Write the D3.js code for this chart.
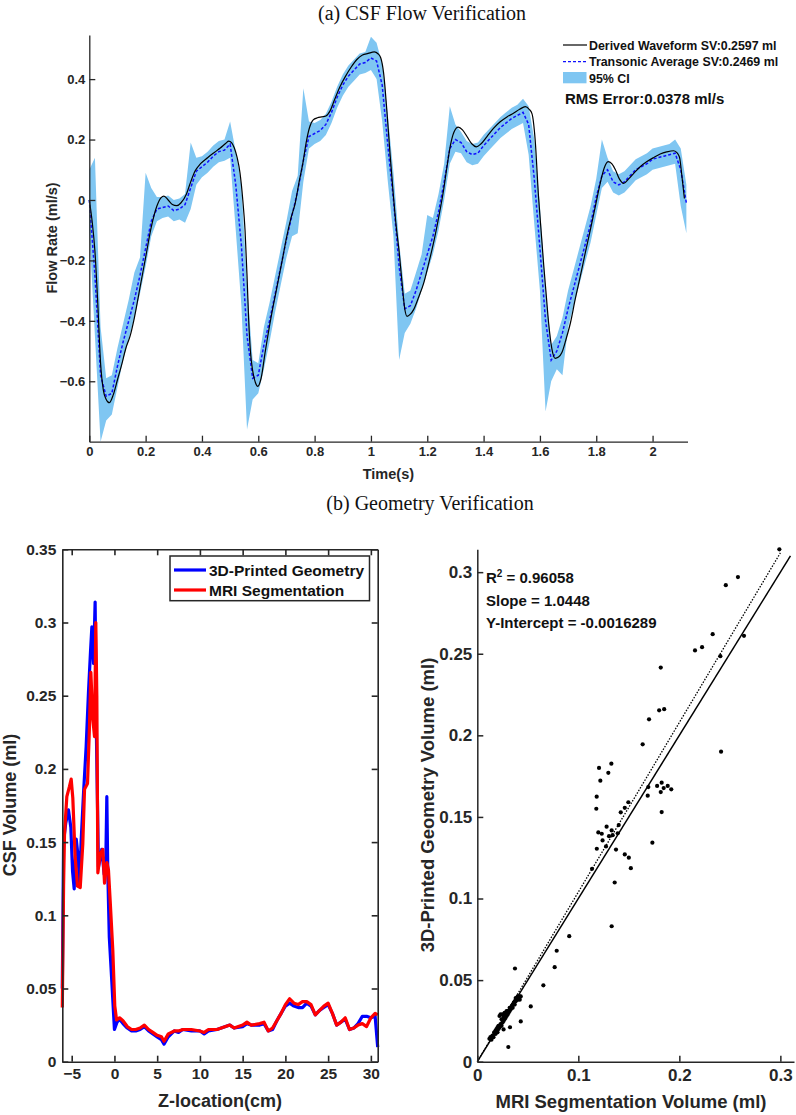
<!DOCTYPE html>
<html>
<head>
<meta charset="utf-8">
<script src="https://cdn.jsdelivr.net/npm/d3@7"></script>
<style>
    body { margin: 0; background: #fff; }
    svg { display: block; font-family: "Liberation Sans", Arial, sans-serif; }
</style>
</head>
<body>
<div id="chart"></div>
<script>
// ---------- (a) CSF flow data ----------
// derived waveform (black), [time s, flow ml/s]
const derivedWave = [
    [0, 0.0], [0.01, -0.07], [0.02, -0.17], [0.03, -0.34], [0.04, -0.54], [0.05, -0.63], [0.06, -0.66],
    [0.071, -0.671], [0.085, -0.645], [0.1, -0.595], [0.115, -0.545], [0.13, -0.49], [0.145, -0.45],
    [0.16, -0.39], [0.18, -0.29], [0.2, -0.19], [0.22, -0.09], [0.24, -0.02], [0.255, 0.008], [0.265, 0.013],
    [0.28, 0.0], [0.295, -0.015], [0.31, -0.019], [0.325, -0.01], [0.345, 0.02], [0.36, 0.06], [0.375, 0.095],
    [0.395, 0.12], [0.42, 0.14], [0.445, 0.158], [0.465, 0.172], [0.485, 0.188], [0.495, 0.195], [0.505, 0.19],
    [0.515, 0.172], [0.525, 0.14], [0.535, 0.09], [0.545, 0.0], [0.553, -0.1], [0.56, -0.25], [0.566, -0.4],
    [0.572, -0.5], [0.58, -0.565], [0.59, -0.605], [0.598, -0.617], [0.61, -0.59], [0.625, -0.5], [0.645, -0.39],
    [0.666, -0.29], [0.685, -0.2], [0.701, -0.121], [0.716, -0.06], [0.731, -0.011], [0.745, 0.06], [0.758, 0.12],
    [0.77, 0.19], [0.782, 0.24], [0.795, 0.265], [0.81, 0.272], [0.825, 0.275], [0.84, 0.278], [0.855, 0.295],
    [0.87, 0.33], [0.89, 0.375], [0.91, 0.41], [0.93, 0.44], [0.95, 0.465], [0.97, 0.48], [0.99, 0.485],
    [1.012, 0.49], [1.025, 0.484], [1.035, 0.47], [1.045, 0.42], [1.057, 0.29], [1.068, 0.15], [1.08, 0.011],
    [1.09, -0.09], [1.1, -0.17], [1.11, -0.27], [1.12, -0.36], [1.128, -0.385], [1.14, -0.378], [1.152, -0.362],
    [1.17, -0.32], [1.187, -0.276], [1.205, -0.21], [1.222, -0.143], [1.24, -0.06], [1.258, 0.033], [1.27, 0.11],
    [1.282, 0.18], [1.295, 0.225], [1.31, 0.241], [1.325, 0.232], [1.341, 0.21], [1.358, 0.186], [1.374, 0.176],
    [1.39, 0.185], [1.412, 0.21], [1.435, 0.237], [1.459, 0.259], [1.483, 0.275], [1.506, 0.287], [1.528, 0.3],
    [1.548, 0.309], [1.562, 0.3], [1.572, 0.285], [1.583, 0.2], [1.595, 0.011], [1.604, -0.1], [1.613, -0.21],
    [1.622, -0.31], [1.631, -0.408], [1.642, -0.49], [1.654, -0.524], [1.666, -0.52], [1.678, -0.505],
    [1.693, -0.46], [1.708, -0.408], [1.725, -0.33], [1.743, -0.254], [1.761, -0.175], [1.779, -0.099],
    [1.797, -0.02], [1.814, 0.055], [1.828, 0.105], [1.842, 0.127], [1.855, 0.12], [1.868, 0.1], [1.882, 0.07],
    [1.897, 0.055], [1.915, 0.07], [1.933, 0.088], [1.956, 0.11], [1.98, 0.127], [2.003, 0.14], [2.027, 0.152],
    [2.05, 0.159], [2.075, 0.163], [2.088, 0.155], [2.096, 0.14], [2.104, 0.08], [2.113, 0.005]
];

// transonic average and its 95% CI, sampled every 0.02 s
const avgTime = [
    0, 0.02, 0.04, 0.06, 0.08, 0.1, 0.12, 0.14, 0.16, 0.18, 0.2, 0.22, 0.24, 0.26, 0.28, 0.3, 0.32, 0.34, 0.36, 0.38,
    0.4, 0.42, 0.44, 0.46, 0.48, 0.5, 0.52, 0.54, 0.56, 0.58, 0.6, 0.62, 0.64, 0.66, 0.68, 0.7, 0.72, 0.74, 0.76, 0.78,
    0.8, 0.82, 0.84, 0.86, 0.88, 0.9, 0.92, 0.94, 0.96, 0.98, 1, 1.02, 1.04, 1.06, 1.08, 1.1, 1.12, 1.14, 1.16, 1.18,
    1.2, 1.22, 1.24, 1.26, 1.28, 1.3, 1.32, 1.34, 1.36, 1.38, 1.4, 1.42, 1.44, 1.46, 1.48, 1.5, 1.52, 1.54, 1.56, 1.58,
    1.6, 1.62, 1.64, 1.66, 1.68, 1.7, 1.72, 1.74, 1.76, 1.78, 1.8, 1.82, 1.84, 1.86, 1.88, 1.9, 1.92, 1.94, 1.96, 1.98,
    2, 2.02, 2.04, 2.06, 2.08, 2.1, 2.12
];
const avgFlow = [
    0, -0.25, -0.58, -0.65, -0.64, -0.55, -0.47, -0.4, -0.33, -0.25, -0.16, -0.07, -0.03, -0.025, -0.02, -0.035, -0.03, -0.015, 0.04, 0.095,
    0.11, 0.125, 0.145, 0.16, 0.165, 0.185, 0.05, -0.15, -0.45, -0.59, -0.58, -0.48, -0.4, -0.31, -0.22, -0.13, -0.05, 0.03, 0.13, 0.21,
    0.22, 0.23, 0.25, 0.29, 0.34, 0.38, 0.41, 0.43, 0.45, 0.455, 0.47, 0.46, 0.38, 0.18, 0, -0.22, -0.36, -0.35, -0.3, -0.24,
    -0.18, -0.12, -0.04, 0.06, 0.17, 0.2, 0.19, 0.16, 0.15, 0.155, 0.18, 0.2, 0.22, 0.24, 0.255, 0.27, 0.28, 0.29, 0.25, 0.07,
    -0.16, -0.4, -0.53, -0.5, -0.44, -0.36, -0.29, -0.22, -0.15, -0.08, 0.01, 0.08, 0.1, 0.06, 0.05, 0.06, 0.08, 0.1, 0.11, 0.12,
    0.135, 0.14, 0.145, 0.15, 0.155, 0.1, -0.01
];
const ciLow = [
    -0.1, -0.45, -0.8, -0.73, -0.71, -0.62, -0.53, -0.46, -0.39, -0.31, -0.22, -0.12, -0.07, -0.06, -0.055, -0.07, -0.065, -0.075, -0.03, 0.05,
    0.075, 0.09, 0.11, 0.125, 0.13, 0.14, -0.1, -0.35, -0.76, -0.66, -0.64, -0.56, -0.47, -0.37, -0.28, -0.19, -0.12, -0.11, 0.06, 0.17,
    0.185, 0.195, 0.215, 0.255, 0.305, 0.345, 0.375, 0.395, 0.415, 0.42, 0.43, 0.4, 0.26, 0.06, -0.12, -0.53, -0.44, -0.41, -0.36, -0.3,
    -0.24, -0.18, -0.1, 0, 0.12, 0.16, 0.155, 0.125, 0.115, 0.12, 0.145, 0.165, 0.185, 0.205, 0.22, 0.235, 0.245, 0.255, 0.15, -0.08,
    -0.3, -0.7, -0.6, -0.56, -0.58, -0.42, -0.35, -0.28, -0.21, -0.14, -0.05, 0.04, 0.06, 0.025, 0.015, 0.025, 0.045, 0.065, 0.075, 0.085,
    0.1, 0.105, 0.11, 0.115, 0.12, -0.02, -0.11
];
const ciHigh = [
    0.1, 0.14, -0.42, -0.59, -0.58, -0.49, -0.41, -0.33, -0.24, -0.19, 0.09, 0.04, 0.01, 0.01, 0.015, 0, 0.005, 0.02, 0.19, 0.14,
    0.145, 0.16, 0.18, 0.195, 0.2, 0.26, 0.16, 0.05, -0.28, -0.53, -0.54, -0.42, -0.34, -0.25, -0.16, -0.07, 0.03, 0.08, 0.37, 0.26,
    0.255, 0.265, 0.285, 0.325, 0.375, 0.415, 0.445, 0.465, 0.485, 0.49, 0.54, 0.52, 0.45, 0.28, 0.09, -0.14, -0.31, -0.3, -0.24, -0.18,
    -0.05, -0.06, 0.02, 0.12, 0.31, 0.25, 0.225, 0.195, 0.185, 0.19, 0.215, 0.235, 0.255, 0.275, 0.29, 0.305, 0.315, 0.335, 0.31, 0.2,
    -0.02, -0.3, -0.48, -0.45, -0.39, -0.3, -0.23, -0.16, -0.09, -0.02, 0.07, 0.2, 0.14, 0.095, 0.085, 0.095, 0.115, 0.135, 0.145, 0.155,
    0.17, 0.175, 0.18, 0.185, 0.2, 0.17, 0.05
];
const flowXTicks = [0, 0.2, 0.4, 0.6, 0.8, 1, 1.2, 1.4, 1.6, 1.8, 2];
const flowYTicks = [-0.6, -0.4, -0.2, 0, 0.2, 0.4];
const flowLegend = ["Derived Waveform SV:0.2597 ml", "Transonic Average SV:0.2469 ml", "95% CI"];
const rmsText = "RMS Error:0.0378 ml/s";

// ---------- (b) geometry data ----------
// [z-location cm, CSF volume ml]
const printedProfile = [
    [-6.1, 0.05], [-5.95, 0.15], [-5.7, 0.163], [-5.38, 0.172], [-5.1, 0.16], [-4.9, 0.13], [-4.71, 0.118],
    [-4.47, 0.152], [-4.25, 0.14], [-4.08, 0.12], [-3.9, 0.15], [-3.62, 0.183], [-3.31, 0.215], [-3.04, 0.252],
    [-2.8, 0.28], [-2.64, 0.297], [-2.44, 0.272], [-2.26, 0.314], [-2.1, 0.22], [-1.87, 0.133], [-1.48, 0.145],
    [-1.2, 0.128], [-1.0, 0.14], [-0.89, 0.181], [-0.78, 0.13], [-0.6, 0.085], [-0.3, 0.054], [0, 0.022],
    [0.3, 0.027], [0.6, 0.029], [1, 0.026], [1.5, 0.023], [2, 0.021], [2.5, 0.021], [3, 0.022], [3.5, 0.024],
    [4, 0.021], [4.5, 0.019], [5, 0.017], [5.5, 0.015], [5.8, 0.012], [6.3, 0.017], [7, 0.021], [7.5, 0.02],
    [8, 0.022], [9, 0.021], [10, 0.021], [10.5, 0.019], [11, 0.021], [12, 0.022], [13, 0.024], [13.5, 0.025],
    [14, 0.023], [15, 0.024], [15.5, 0.026], [16, 0.025], [17, 0.025], [17.5, 0.026], [18, 0.021], [18.5, 0.022],
    [19, 0.028], [19.5, 0.033], [20, 0.038], [20.5, 0.04], [21, 0.038], [21.5, 0.037], [22, 0.037], [22.5, 0.04],
    [23, 0.038], [23.5, 0.032], [24, 0.035], [24.5, 0.037], [25, 0.039], [25.5, 0.033], [26, 0.025], [26.5, 0.027],
    [27, 0.029], [27.5, 0.022], [28, 0.023], [28.5, 0.026], [29, 0.031], [29.5, 0.031], [30, 0.03], [30.5, 0.031],
    [30.8, 0.01]
];
const mriProfile = [
    [-6.1, 0.037], [-5.95, 0.12], [-5.84, 0.156], [-5.57, 0.181], [-5.26, 0.188], [-5.06, 0.193], [-4.87, 0.18],
    [-4.6, 0.14], [-4.32, 0.12], [-4.0, 0.119], [-3.7, 0.149], [-3.5, 0.186], [-3.15, 0.19], [-2.92, 0.229],
    [-2.76, 0.266], [-2.53, 0.234], [-2.33, 0.222], [-2.18, 0.3], [-2.06, 0.25], [-1.94, 0.129], [-1.66, 0.142],
    [-1.36, 0.145], [-1.16, 0.122], [-0.89, 0.136], [-0.7, 0.131], [-0.5, 0.11], [-0.19, 0.076], [0.04, 0.038],
    [0.25, 0.0285], [0.6, 0.03], [1, 0.028], [1.5, 0.024], [2, 0.022], [2.5, 0.022], [3, 0.023], [3.5, 0.025],
    [4, 0.022], [4.5, 0.02], [5, 0.018], [5.5, 0.017], [5.8, 0.014], [6.3, 0.019], [7, 0.021], [7.5, 0.021],
    [8, 0.022], [9, 0.022], [10, 0.021], [10.5, 0.02], [11, 0.022], [12, 0.022], [13, 0.024], [13.5, 0.025],
    [14, 0.023], [15, 0.025], [15.5, 0.027], [16, 0.025], [17, 0.026], [17.5, 0.027], [18, 0.021], [18.5, 0.023],
    [19, 0.028], [19.5, 0.033], [20, 0.039], [20.5, 0.043], [21, 0.04], [21.5, 0.039], [22, 0.041], [22.5, 0.041],
    [23, 0.039], [23.5, 0.032], [24, 0.035], [24.5, 0.038], [25, 0.04], [25.5, 0.033], [26, 0.025], [26.5, 0.027],
    [27, 0.03], [27.5, 0.022], [28, 0.023], [28.5, 0.025], [29, 0.026], [29.5, 0.024], [30, 0.03], [30.5, 0.033],
    [30.8, 0.032]
];
const profileXTicks = [-5, 0, 5, 10, 15, 20, 25, 30];
const profileYTicks = [0, 0.05, 0.1, 0.15, 0.2, 0.25, 0.3, 0.35];
const profileLegend = ["3D-Printed Geometry", "MRI Segmentation"];

// [MRI segmentation volume, 3D-printed volume]
const scatterPoints = [
    [0.012, 0.014], [0.013, 0.015], [0.014, 0.0135], [0.015, 0.016], [0.016, 0.015], [0.017, 0.018], [0.018, 0.017],
    [0.018, 0.019], [0.019, 0.02], [0.02, 0.018], [0.02, 0.021], [0.021, 0.02], [0.021, 0.022], [0.022, 0.021],
    [0.022, 0.028], [0.023, 0.023], [0.023, 0.029], [0.024, 0.022], [0.024, 0.026], [0.025, 0.024], [0.025, 0.029],
    [0.026, 0.025], [0.026, 0.027], [0.027, 0.026], [0.027, 0.03], [0.028, 0.027], [0.028, 0.029], [0.029, 0.028],
    [0.029, 0.031], [0.03, 0.029], [0.03, 0.031], [0.031, 0.03], [0.032, 0.031], [0.032, 0.033], [0.033, 0.032],
    [0.034, 0.034], [0.035, 0.033], [0.035, 0.035], [0.036, 0.036], [0.037, 0.035], [0.037, 0.037], [0.038, 0.037],
    [0.038, 0.039], [0.039, 0.038], [0.04, 0.038], [0.04, 0.04], [0.041, 0.039], [0.042, 0.04], [0.042, 0.038],
    [0.043, 0.04], [0.0167, 0.0178], [0.026, 0.0198],
    [0.0307, 0.009], [0.0324, 0.0211], [0.043, 0.0247], [0.0373, 0.0571], [0.0529, 0.0339], [0.0654, 0.0468],
    [0.0766, 0.0579], [0.0786, 0.068], [0.091, 0.0769], [0.133, 0.083], [0.136, 0.1098], [0.1136, 0.1182],
    [0.1183, 0.1305], [0.1274, 0.1319], [0.1373, 0.13], [0.124, 0.1356], [0.1304, 0.1382], [0.134, 0.1388],
    [0.1198, 0.1405], [0.1232, 0.1397], [0.128, 0.144], [0.133, 0.1417], [0.139, 0.14], [0.14, 0.145],
    [0.146, 0.127], [0.15, 0.125], [0.152, 0.1186], [0.1733, 0.1342], [0.1178, 0.155], [0.142, 0.1528],
    [0.146, 0.1556], [0.1495, 0.159], [0.1825, 0.153], [0.1182, 0.1624], [0.1687, 0.163], [0.1693, 0.1683],
    [0.1816, 0.1652], [0.1845, 0.1677], [0.192, 0.1669], [0.178, 0.169], [0.1885, 0.169], [0.1825, 0.171],
    [0.1218, 0.1722], [0.1297, 0.177], [0.1205, 0.18], [0.1327, 0.1826], [0.2413, 0.19], [0.1637, 0.1945],
    [0.17, 0.2098], [0.18, 0.2153], [0.185, 0.216], [0.1816, 0.2415], [0.2406, 0.2485], [0.2155, 0.252],
    [0.2225, 0.254], [0.264, 0.261], [0.233, 0.262], [0.246, 0.292], [0.258, 0.297], [0.299, 0.314]
];
const fitSlope = 1.0448;
const fitIntercept = -0.0016289;
const fitRange = [0, 0.3];
const identityRange = [0, 0.31];
const scatterTicks = [0, 0.05, 0.1, 0.15, 0.2, 0.25, 0.3];
const scatterXTicks = [0, 0.1, 0.2, 0.3];
const statsLines = ["R", " = 0.96058", "Slope = 1.0448", "Y-Intercept = -0.0016289"];

// ---------- drawing ----------
const axisColor = "#262626";
const svg = d3.select("#chart").append("svg").attr("width", 796).attr("height", 1115);

function styleAxis(g, fontSize, width) {
    g.select(".domain").attr("stroke", axisColor).attr("stroke-width", width);
    g.selectAll(".tick line").attr("stroke", axisColor).attr("stroke-width", width);
    g.selectAll(".tick text")
        .attr("fill", axisColor)
        .attr("font-size", fontSize)
        .attr("font-weight", "bold")
        .attr("font-family", "Liberation Sans, Arial, sans-serif");
    return g;
}

function boldText(parent, x, y, txt, size, anchor) {
    return parent.append("text")
        .attr("x", x).attr("y", y)
        .attr("font-size", size)
        .attr("font-weight", "bold")
        .attr("fill", axisColor)
        .attr("text-anchor", anchor || "start")
        .text(txt);
}

function titleText(x, y, txt) {
    svg.append("text")
        .attr("x", x).attr("y", y)
        .attr("text-anchor", "middle")
        .attr("font-family", "Liberation Serif, serif")
        .attr("font-size", 20)
        .attr("fill", "#111")
        .text(txt);
}

// ----- (a) flow -----
titleText(422, 20, "(a) CSF Flow Verification");

const fx = d3.scaleLinear().domain([0, 2.124]).range([89.3, 687.5]);
const fy = d3.scaleLinear().domain([-0.8, 0.546]).range([441.7, 35]);
const flowG = svg.append("g").attr("class", "flow");

const ciRows = avgTime.map((t, i) => ({ t, lo: ciLow[i], hi: ciHigh[i], avg: avgFlow[i] }));

flowG.append("path")
    .datum(ciRows)
    .attr("fill", "#7fc6f2")
    .attr("d", d3.area().x(d => fx(d.t)).y0(d => fy(d.lo)).y1(d => fy(d.hi)));

flowG.append("path")
    .datum(ciRows)
    .attr("fill", "none")
    .attr("stroke", "#1010ff")
    .attr("stroke-width", 1.5)
    .attr("stroke-dasharray", "3,2")
    .attr("d", d3.line().x(d => fx(d.t)).y(d => fy(d.avg)));

flowG.append("path")
    .datum(derivedWave)
    .attr("fill", "none")
    .attr("stroke", "#000")
    .attr("stroke-width", 1.2)
    .attr("d", d3.line().curve(d3.curveMonotoneX).x(d => fx(d[0])).y(d => fy(d[1])));

styleAxis(flowG.append("g")
    .attr("transform", "translate(0,441.7)")
    .call(d3.axisBottom(fx).tickValues(flowXTicks).tickFormat(d3.format("~g")).tickSizeInner(-6).tickSizeOuter(0).tickPadding(5)), 13, 1.3);
styleAxis(flowG.append("g")
    .attr("transform", "translate(89.3,0)")
    .call(d3.axisLeft(fy).tickValues(flowYTicks).tickFormat(d3.format("~g")).tickSizeInner(-6).tickSizeOuter(0).tickPadding(4)), 13, 1.3);

boldText(flowG, fx(1.062), 479, "Time(s)", 14.5, "middle");
boldText(flowG, 0, 0, "Flow Rate (ml/s)", 14.5, "middle")
    .attr("transform", "translate(57,238) rotate(-90)");

// legend
const lg = flowG.append("g");
lg.append("line").attr("x1", 563).attr("x2", 587).attr("y1", 45).attr("y2", 45)
    .attr("stroke", "#000").attr("stroke-width", 1.2);
lg.append("line").attr("x1", 563).attr("x2", 587).attr("y1", 61.7).attr("y2", 61.7)
    .attr("stroke", "#1010ff").attr("stroke-width", 1.2).attr("stroke-dasharray", "3,2");
lg.append("rect").attr("x", 563).attr("y", 72).attr("width", 23.5).attr("height", 11.3).attr("fill", "#7fc6f2");
flowLegend.forEach((s, i) => boldText(lg, 589, 49.5 + i * 16.5, s, 12.4).attr("fill", "#111"));
boldText(lg, 565, 104, rmsText, 15).attr("fill", "#111");

// ----- (b) geometry -----
titleText(430, 510, "(b) Geometry Verification");

const px = d3.scaleLinear().domain([-6.1, 30.8]).range([62.3, 377.7]);
const py = d3.scaleLinear().domain([0, 0.35]).range([1061.7, 549.3]);
const profG = svg.append("g").attr("class", "profile");

const profileLine = d3.line().x(d => px(d[0])).y(d => py(d[1]));
profG.append("path").datum(printedProfile)
    .attr("fill", "none").attr("stroke", "#0000ff").attr("stroke-width", 3.2)
    .attr("stroke-linejoin", "round").attr("d", profileLine);
profG.append("path").datum(mriProfile)
    .attr("fill", "none").attr("stroke", "#ff0000").attr("stroke-width", 3.2)
    .attr("stroke-linejoin", "round").attr("d", profileLine);

styleAxis(profG.append("g")
    .attr("transform", "translate(0,1061.7)")
    .call(d3.axisBottom(px).tickValues(profileXTicks).tickSizeInner(-6).tickSizeOuter(0).tickPadding(6)), 15.5, 1.6);
styleAxis(profG.append("g")
    .attr("transform", "translate(62.3,0)")
    .call(d3.axisLeft(py).tickValues(profileYTicks).tickFormat(d3.format("~g")).tickSizeInner(-6).tickSizeOuter(0).tickPadding(6)), 15.5, 1.6);
styleAxis(profG.append("g")
    .attr("transform", "translate(0,549.3)")
    .call(d3.axisTop(px).tickValues(profileXTicks).tickFormat("").tickSizeInner(-6).tickSizeOuter(0)), 15.5, 1.6);
styleAxis(profG.append("g")
    .attr("transform", "translate(377.7,0)")
    .call(d3.axisRight(py).tickValues(profileYTicks).tickFormat("").tickSizeInner(-6).tickSizeOuter(0)), 15.5, 1.6);

boldText(profG, 220, 1107, "Z-location(cm)", 18, "middle");
boldText(profG, 0, 0, "CSF Volume (ml)", 18, "middle")
    .attr("transform", "translate(16,805) rotate(-90)");

// legend box
const plg = profG.append("g");
plg.append("rect").attr("x", 170).attr("y", 556).attr("width", 199.5).attr("height", 44.7)
    .attr("fill", "#fff").attr("stroke", axisColor).attr("stroke-width", 1.5);
[["#0000ff", 570], ["#ff0000", 590]].forEach(([c, y], i) => {
    plg.append("line").attr("x1", 174).attr("x2", 206).attr("y1", y).attr("y2", y)
        .attr("stroke", c).attr("stroke-width", 3.2);
    boldText(plg, 209, y + 5.5, profileLegend[i], 15.5).attr("fill", "#111");
});

// ----- scatter -----
const sx = d3.scaleLinear().domain([0, 0.3135]).range([477.3, 794]);
const sy = d3.scaleLinear().domain([0, 0.314]).range([1061.7, 549.3]);
const scG = svg.append("g").attr("class", "scatter");

scG.append("line")
    .attr("x1", sx(identityRange[0])).attr("y1", sy(identityRange[0]))
    .attr("x2", sx(identityRange[1])).attr("y2", sy(identityRange[1]))
    .attr("stroke", "#000").attr("stroke-width", 1.5);
scG.append("line")
    .attr("x1", sx(fitRange[0])).attr("y1", sy(Math.max(0, fitSlope * fitRange[0] + fitIntercept)))
    .attr("x2", sx(fitRange[1])).attr("y2", sy(fitSlope * fitRange[1] + fitIntercept))
    .attr("stroke", "#000").attr("stroke-width", 1.3).attr("stroke-dasharray", "1.5,1.5");

scG.selectAll("circle.pt").data(scatterPoints).enter().append("circle")
    .attr("class", "pt")
    .attr("cx", d => sx(d[0])).attr("cy", d => sy(d[1]))
    .attr("r", 2.1).attr("fill", "#000");

styleAxis(scG.append("g")
    .attr("transform", "translate(0,1061.7)")
    .call(d3.axisBottom(sx).tickValues(scatterXTicks).tickFormat(d3.format("~g")).tickSizeInner(-6).tickSizeOuter(0).tickPadding(7)), 17, 1.5);
styleAxis(scG.append("g")
    .attr("transform", "translate(477.3,0)")
    .call(d3.axisLeft(sy).tickValues(scatterTicks).tickFormat(d3.format("~g")).tickSizeInner(-6).tickSizeOuter(0).tickPadding(5)), 17, 1.5);

boldText(scG, 631, 1108, "MRI Segmentation Volume (ml)", 18.5, "middle");
boldText(scG, 0, 0, "3D-Printed Geometry Volume (ml)", 18.5, "middle")
    .attr("transform", "translate(434,805) rotate(-90)");

const r2 = boldText(scG, 486, 583, "", 15).attr("fill", "#111");
r2.append("tspan").text(statsLines[0]);
r2.append("tspan").attr("dy", -6).attr("font-size", 10).text("2");
r2.append("tspan").attr("dy", 6).text(statsLines[1]);
boldText(scG, 486, 606, statsLines[2], 15).attr("fill", "#111");
boldText(scG, 486, 628, statsLines[3], 15).attr("fill", "#111");
</script>
</body>
</html>
